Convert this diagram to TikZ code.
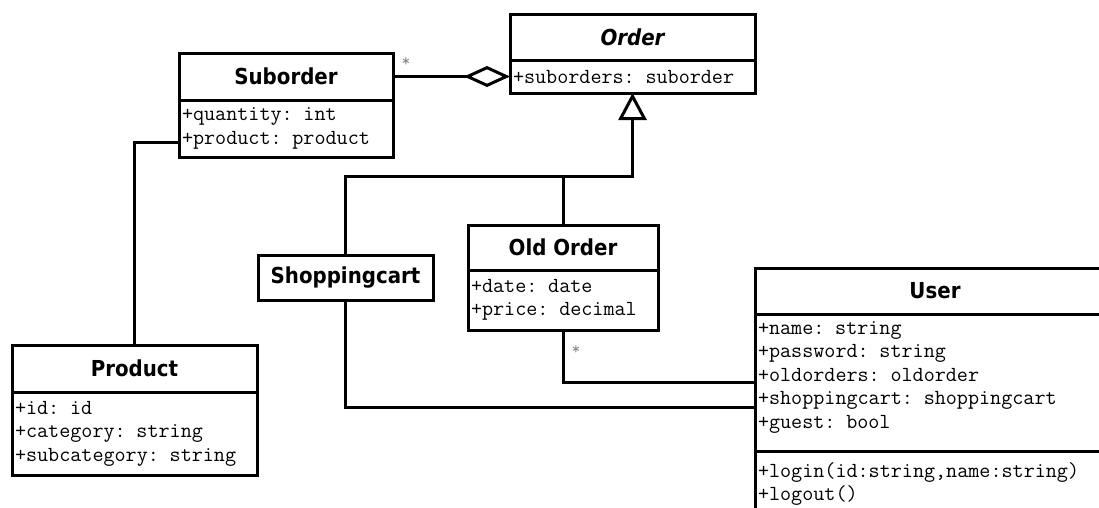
\documentclass[tikz,border=0pt]{standalone}
\usepackage{fontspec}
\newfontfamily\titlefont{DejaVu Sans}[FakeStretch=0.9]
\usetikzlibrary{arrows.meta}
\tikzset{
  umlbox/.style={draw, line width=3pt, anchor=north west, inner sep=0pt, outer sep=0pt, fill=white},
  umltitle/.style={umlbox, font=\titlefont\bfseries\fontsize{22}{24}\selectfont},
  umlattr/.style={umlbox, align=left, inner xsep=3pt, font=\ttfamily\fontsize{21.5}{23.5}\selectfont},
  link/.style={line width=3pt},
  mult/.style={font=\ttfamily\fontsize{17}{17}\selectfont, text=gray}
}

\begin{document}
\begin{tikzpicture}[x=1pt, y=-1pt]
  \useasboundingbox (0,0) rectangle (1099,507);

  % classes
  \node [umltitle, minimum width=245pt, minimum height=46pt] (ordT) at (510,14) {\itshape Order};
  \node [umlattr, text width=239pt, minimum height=33pt] (ordA) at (ordT.south west) {+suborders: suborder};

  \node [umltitle, minimum width=214pt, minimum height=47pt] (subT) at (179,53) {Suborder};
  \node [umlattr, text width=208pt, minimum height=57pt] (subA) at (subT.south west) {+quantity: int\\+product: product};

  \node [umltitle, minimum width=245pt, minimum height=47pt] (prodT) at (12,345) {Product};
  \node [umlattr, text width=239pt, minimum height=83pt] (prodA) at (prodT.south west) {+id: id\\+category: string\\+subcategory: string};

  \node [umltitle, minimum width=175pt, minimum height=45pt] (cart) at (258,255) {Shoppingcart};

  \node [umltitle, minimum width=190pt, minimum height=45pt] (oldT) at (468,225) {Old Order};
  \node [umlattr, text width=184pt, minimum height=60pt] (oldA) at (oldT.south west) {+date: date\\+price: decimal};

  \node [umltitle, minimum width=360pt, minimum height=46pt] (userT) at (755,268) {User};
  \node [umlattr, text width=354pt, minimum height=137pt] (userA) at (userT.south west) {+name: string\\+password: string\\+oldorders: oldorder\\+shoppingcart: shoppingcart\\+guest: bool\\[-8pt]\mbox{}};
  \node [umlattr, text width=354pt, minimum height=66pt] (userM) at (userA.south west) {+login(id:string,name:string)\\+logout()};

  % inheritance
  \coordinate (jn) at (ordA.south |- 0,176);
  \draw [link, -{Triangle[open, length=27pt, width=28pt]}] (cart.north) |- (jn) -- (ordA.south);
  \draw [link] (oldT.north) -- (oldT.north |- jn);

  % associations
  \draw [link, -{Diamond[open, length=46pt, width=21pt]}] (subT.east) -- (ordA.west);
  \draw [link] (prodT.north) |- ([yshift=-14pt]subA.west);
  \draw [link] (oldA.south) |- (userA.west);
  \draw [link] (cart.south) |- ([yshift=-25pt]userA.west);

  \node [mult] (m1) at (406,62) {*};
  \node [mult] (m2) at (576,350) {*};
\end{tikzpicture}
\end{document}
